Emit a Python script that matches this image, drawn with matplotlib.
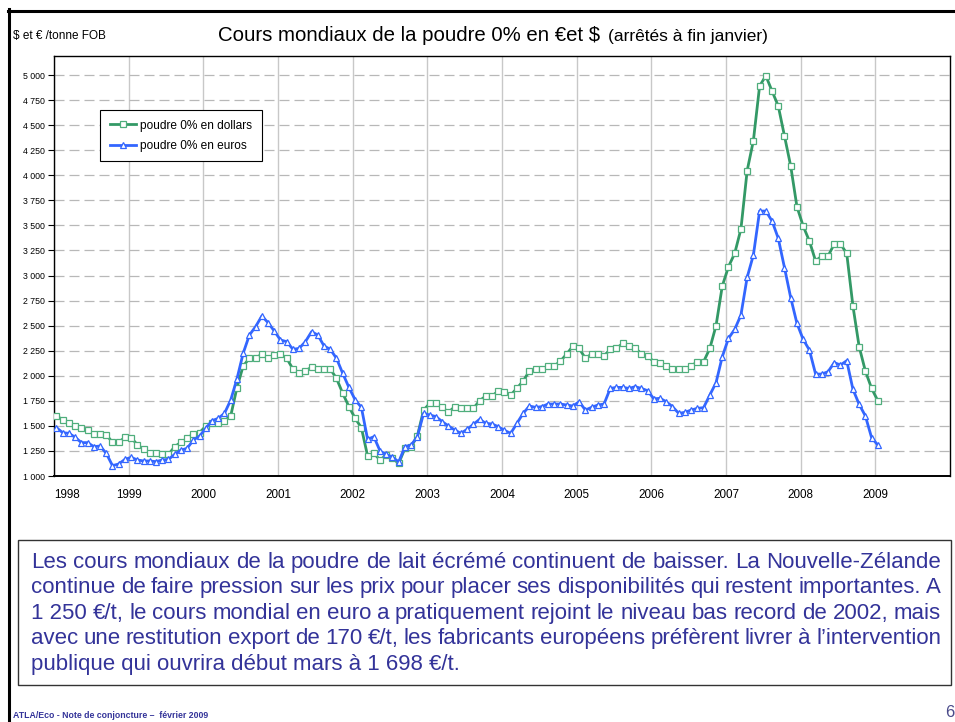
import numpy as np
import matplotlib.pyplot as plt
from matplotlib.lines import Line2D
from matplotlib.patches import Rectangle

plt.rcParams['font.family'] = ['Liberation Sans', 'DejaVu Sans']

# monthly world prices of skimmed milk powder, Jan 1998 -> Jan 2009
dollars = [1602, 1559, 1532, 1499, 1482, 1459, 1416, 1422, 1412, 1336, 1336, 1386,
           1382, 1312, 1266, 1233, 1226, 1223, 1216, 1293, 1336, 1376, 1422, 1432,
           1499, 1525, 1525, 1552, 1599, 1881, 2097, 2174, 2174, 2217, 2174, 2207,
           2217, 2174, 2067, 2031, 2051, 2084, 2067, 2067, 2067, 1974, 1825, 1692,
           1575, 1482, 1200, 1226, 1160, 1209, 1176, 1126, 1276, 1293, 1399, 1658,
           1725, 1725, 1685, 1635, 1692, 1675, 1675, 1675, 1751, 1798, 1798, 1848,
           1841, 1808, 1875, 1948, 2047, 2064, 2067, 2097, 2097, 2147, 2217, 2297,
           2273, 2174, 2217, 2217, 2200, 2263, 2273, 2323, 2297, 2280, 2217, 2197,
           2140, 2124, 2097, 2064, 2064, 2064, 2097, 2140, 2140, 2273, 2500, 2895,
           3088, 3221, 3464, 4046, 4345, 4890, 4993, 4840, 4691, 4392, 4092, 3687,
           3494, 3344, 3145, 3195, 3195, 3314, 3314, 3221, 2696, 2290, 2047, 1874,
           1751]
euros = [1482, 1432, 1426, 1386, 1333, 1333, 1293, 1299, 1226, 1103, 1120, 1166,
         1186, 1160, 1150, 1150, 1143, 1160, 1166, 1216, 1259, 1276, 1359, 1399,
         1475, 1552, 1575, 1625, 1758, 1968, 2224, 2406, 2490, 2596, 2530, 2446,
         2357, 2340, 2264, 2273, 2340, 2440, 2406, 2297, 2264, 2174, 2024, 1884,
         1760, 1685, 1366, 1392, 1250, 1215, 1188, 1140, 1293, 1309, 1392, 1625,
         1608, 1592, 1542, 1499, 1459, 1426, 1466, 1515, 1565, 1525, 1519, 1492,
         1455, 1426, 1525, 1625, 1698, 1685, 1692, 1718, 1718, 1718, 1708, 1698,
         1741, 1658, 1685, 1708, 1718, 1874, 1884, 1884, 1874, 1891, 1874, 1851,
         1770, 1775, 1741, 1692, 1625, 1635, 1658, 1675, 1682, 1808, 1931, 2190,
         2373, 2463, 2606, 2982, 3204, 3643, 3643, 3544, 3371, 3078, 2779, 2523,
         2363, 2257, 2017, 2017, 2041, 2131, 2107, 2150, 1865, 1715, 1599, 1382,
         1309]
first_year = 1998
years = list(range(1998, 2010))
y_ticks = list(range(1000, 5001, 250))
y_labels = [f"{v:,}".replace(",", " ") for v in y_ticks]
series_labels = ['poudre 0% en dollars', 'poudre 0% en euros']

comment_lines = [
    "Les cours mondiaux de la poudre de lait écrémé continuent de baisser. La Nouvelle-Zélande",
    "continue de faire pression sur les prix pour placer ses disponibilités qui restent importantes. A",
    "1\u00a0250 €/t, le cours mondial en euro a pratiquement rejoint le niveau bas record de 2002, mais",
    "avec une restitution export de 170 €/t, les fabricants européens préfèrent livrer à l’intervention",
    "publique qui ouvrira début mars à 1\u00a0698 €/t.",
]

W, H = 955, 722
fig = plt.figure(figsize=(W / 100, H / 100), dpi=100)


def fx(px):
    return px / W


def fy(py):
    return 1 - py / H


ax = fig.add_axes([fx(54), fy(476), fx(950) - fx(54), fy(56) - fy(476)])
months = np.arange(len(dollars))
x = first_year + (months + 0.4) / 12

ax.plot(x, dollars, color='#339966', lw=2, marker='s', ms=4.3, mfc='white',
        mec='#4fae7c', mew=0.9, label=series_labels[0], zorder=3)
ax.plot(x, euros, color='#3366ff', lw=2, marker='^', ms=4.8, mfc='white',
        mec='#3366ff', mew=0.9, label=series_labels[1], zorder=4)

ax.set_xlim(1998, 2010)
ax.set_ylim(1000, 5190)
ax.set_yticks(y_ticks)
ax.set_yticklabels(y_labels, fontsize=6.3)
ax.set_xticks(years)
ax.set_xticklabels([str(y) for y in years], fontsize=8.4)
ax.get_xticklabels()[0].set_ha('left')
ax.tick_params(axis='x', length=0, pad=9)
ax.tick_params(axis='y', length=4.3, width=0.8, pad=2)
ax.grid(axis='y', color='#b8b8b8', lw=0.9, ls=(0, (8, 4)))
ax.grid(axis='x', color='#c8c8c8', lw=1.0)
ax.set_axisbelow(True)
for s in ax.spines.values():
    s.set_linewidth(1.0)
ax.spines['bottom'].set_linewidth(1.4)

leg = ax.legend(loc='upper left', bbox_to_anchor=(fx(100), fy(110)),
                bbox_transform=fig.transFigure, fontsize=8.6, fancybox=False,
                edgecolor='black', framealpha=1, borderpad=0.8, labelspacing=0.7,
                handlelength=2.2, handletextpad=0.35, borderaxespad=0)
leg.get_frame().set_linewidth(0.8)

# titles
fig.text(fx(218), fy(41), 'Cours mondiaux de la poudre 0% en €et $', fontsize=14.7, va='baseline')
fig.text(fx(608), fy(41), '(arrêtés à fin janvier)', fontsize=12.5, va='baseline')
fig.text(fx(13), fy(39.5), '$ et € /tonne FOB', fontsize=8.5, va='baseline')

# slide frame
fig.add_artist(Line2D([fx(9), fx(9)], [fy(9), fy(722)], color='black', lw=2.2))
fig.add_artist(Line2D([fx(7.5), fx(955)], [fy(10.5), fy(10.5)], color='black', lw=2.2))

# comment box
fig.add_artist(Rectangle((fx(18), fy(685)), fx(951) - fx(18), fy(540) - fy(685),
                         fill=False, edgecolor='#333333', lw=1))

renderer = fig.canvas.get_renderer()
x0, x1 = 31, 941
for k, line in enumerate(comment_lines):
    ypos = fy(568 + k * 25.4)
    words = line.split(' ')
    if k == len(comment_lines) - 1:
        fig.text(fx(x0), ypos, line, fontsize=16, color='#333399', va='baseline')
        continue
    texts = [fig.text(0, ypos, w, fontsize=16, color='#333399', va='baseline') for w in words]
    widths = [t.get_window_extent(renderer).width for t in texts]
    gap = (x1 - x0 - sum(widths)) / (len(words) - 1)
    pos = x0
    for t, w in zip(texts, widths):
        t.set_x(fx(pos))
        pos += w + gap

# footer
fig.text(fx(13), fy(718), 'ATLA/Eco - Note de conjoncture –  février 2009', fontsize=6.3,
         fontweight='bold', color='#333399', va='baseline')
fig.text(fx(945), fy(717), '6', fontsize=12, color='#4a4a8a', va='baseline')

fig.savefig('out.png', dpi=100)
